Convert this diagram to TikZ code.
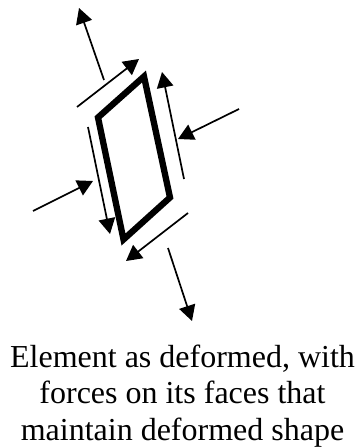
\documentclass[tikz,border=0pt]{standalone}
\usepackage{fontspec}
\setmainfont{Liberation Serif}
\usetikzlibrary{arrows.meta}
\tikzset{
  force/.style={line width=1.7bp,-{Triangle[length=15.5bp,width=16.5bp]},shorten <=0pt},
  element/.style={line width=6.3bp,miter limit=10,line join=miter},
  caption/.style={align=center,font=\fontsize{32bp}{36.5bp}\selectfont,inner sep=0pt,anchor=north}
}
\begin{document}
\begin{tikzpicture}[x=1bp,y=-1bp]
\useasboundingbox (0,0) rectangle (357,448);
\coordinate (t) at (144,76.5);
\coordinate (l) at (98,117.5);
\coordinate (b) at (123.5,239.5);
\coordinate (r) at (170,197.5);
\draw[element] (t) -- (l) -- (b) -- (r) -- cycle;
\coordinate (a1s) at (104,80);  \coordinate (a1e) at (79,8);
\coordinate (a2s) at (77,107);  \coordinate (a2e) at (139,59);
\coordinate (a3s) at (184,179); \coordinate (a3e) at (162,72);
\coordinate (a4s) at (239,109); \coordinate (a4e) at (178,139);
\coordinate (a5s) at (33,211);  \coordinate (a5e) at (93,181);
\coordinate (a6s) at (88,127);  \coordinate (a6e) at (110,234);
\coordinate (a7s) at (188,213); \coordinate (a7e) at (126,261);
\coordinate (a8s) at (168,248); \coordinate (a8e) at (192,321);
\foreach \i in {1,...,8} \draw[force] (a\i s) -- (a\i e);
\node[caption] (cap) at (182.5,344.5) {Element as deformed, with\\forces on its faces that\\maintain deformed shape};
\end{tikzpicture}
\end{document}
